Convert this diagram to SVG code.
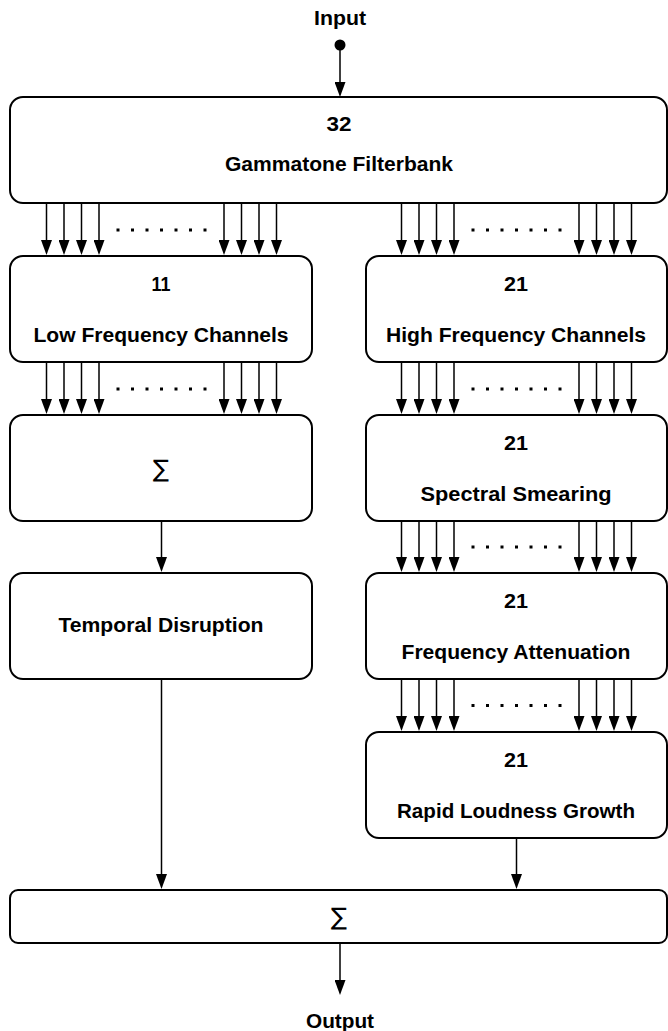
<svg xmlns="http://www.w3.org/2000/svg" width="668" height="1031" viewBox="0 0 668 1031">
<defs>
<style>
.box{fill:#fff;stroke:#000;stroke-width:2}
.t{font-family:"Liberation Sans",Arial,sans-serif;font-weight:bold;font-size:20px;fill:#000;text-anchor:middle}
.s{font-family:"DejaVu Sans","Liberation Sans",sans-serif;font-size:24px;fill:#000;text-anchor:middle}
.c line{stroke:#000;stroke-width:1.5;marker-end:url(#ah)}
.d rect{fill:#000}
</style>
<marker id="ah" viewBox="0 0 15 11" refX="11" refY="5.5" markerWidth="15" markerHeight="11" markerUnits="userSpaceOnUse" orient="auto">
<path d="M0,0 L15,5.5 L0,11 z" fill="#000"/>
</marker>
</defs>
<rect width="668" height="1031" fill="#fff"/>

<g id="input">
<text class="t" x="340" y="25" textLength="52" lengthAdjust="spacingAndGlyphs">Input</text>
<circle cx="340" cy="45" r="5.5" fill="#000"/>
</g>

<g id="gammatone">
<rect class="box" x="10" y="97" width="657" height="106" rx="13"/>
<text class="t" x="339" y="131" textLength="25" lengthAdjust="spacingAndGlyphs">32</text>
<text class="t" x="339" y="171" textLength="228" lengthAdjust="spacingAndGlyphs">Gammatone Filterbank</text>
</g>

<g id="low">
<rect class="box" x="10" y="256" width="302" height="106" rx="13"/>
<text class="t" x="161" y="291" textLength="19" lengthAdjust="spacingAndGlyphs">11</text>
<text class="t" x="161" y="342" textLength="255" lengthAdjust="spacingAndGlyphs">Low Frequency Channels</text>
</g>

<g id="high">
<rect class="box" x="366" y="256" width="301" height="106" rx="13"/>
<text class="t" x="516" y="291" textLength="24" lengthAdjust="spacingAndGlyphs">21</text>
<text class="t" x="516" y="342" textLength="260" lengthAdjust="spacingAndGlyphs">High Frequency Channels</text>
</g>

<g id="sum1">
<rect class="box" x="10" y="415" width="302" height="106" rx="13"/>
<text class="s" x="161" y="477">∑</text>
</g>

<g id="spectral">
<rect class="box" x="366" y="415" width="301" height="106" rx="13"/>
<text class="t" x="516" y="450" textLength="24" lengthAdjust="spacingAndGlyphs">21</text>
<text class="t" x="516" y="501" textLength="191" lengthAdjust="spacingAndGlyphs">Spectral Smearing</text>
</g>

<g id="temporal">
<rect class="box" x="10" y="573" width="302" height="106" rx="13"/>
<text class="t" x="161" y="632" textLength="205" lengthAdjust="spacingAndGlyphs">Temporal Disruption</text>
</g>

<g id="attenuation">
<rect class="box" x="366" y="573" width="301" height="106" rx="13"/>
<text class="t" x="516" y="608" textLength="24" lengthAdjust="spacingAndGlyphs">21</text>
<text class="t" x="516" y="659" textLength="229" lengthAdjust="spacingAndGlyphs">Frequency Attenuation</text>
</g>

<g id="loudness">
<rect class="box" x="366" y="732" width="301" height="106" rx="13"/>
<text class="t" x="516" y="767" textLength="24" lengthAdjust="spacingAndGlyphs">21</text>
<text class="t" x="516" y="818" textLength="238" lengthAdjust="spacingAndGlyphs">Rapid Loudness Growth</text>
</g>

<g id="sum2">
<rect class="box" x="10" y="890" width="657" height="53" rx="8"/>
<text class="s" x="339" y="925">∑</text>
</g>

<g id="output">
<text class="t" x="340" y="1028" textLength="68" lengthAdjust="spacingAndGlyphs">Output</text>
</g>

<g id="connectors" class="c">
<line x1="340" y1="45" x2="340" y2="93"/>
<line x1="46.5" y1="204" x2="46.5" y2="251"/>
<line x1="64" y1="204" x2="64" y2="251"/>
<line x1="81.5" y1="204" x2="81.5" y2="251"/>
<line x1="99" y1="204" x2="99" y2="251"/>
<line x1="224" y1="204" x2="224" y2="251"/>
<line x1="241.5" y1="204" x2="241.5" y2="251"/>
<line x1="259" y1="204" x2="259" y2="251"/>
<line x1="276.5" y1="204" x2="276.5" y2="251"/>
<line x1="401.5" y1="204" x2="401.5" y2="251"/>
<line x1="419" y1="204" x2="419" y2="251"/>
<line x1="436.5" y1="204" x2="436.5" y2="251"/>
<line x1="454" y1="204" x2="454" y2="251"/>
<line x1="579" y1="204" x2="579" y2="251"/>
<line x1="596.5" y1="204" x2="596.5" y2="251"/>
<line x1="614" y1="204" x2="614" y2="251"/>
<line x1="631.5" y1="204" x2="631.5" y2="251"/>
<line x1="46.5" y1="363" x2="46.5" y2="410"/>
<line x1="64" y1="363" x2="64" y2="410"/>
<line x1="81.5" y1="363" x2="81.5" y2="410"/>
<line x1="99" y1="363" x2="99" y2="410"/>
<line x1="224" y1="363" x2="224" y2="410"/>
<line x1="241.5" y1="363" x2="241.5" y2="410"/>
<line x1="259" y1="363" x2="259" y2="410"/>
<line x1="276.5" y1="363" x2="276.5" y2="410"/>
<line x1="401.5" y1="363" x2="401.5" y2="410"/>
<line x1="419" y1="363" x2="419" y2="410"/>
<line x1="436.5" y1="363" x2="436.5" y2="410"/>
<line x1="454" y1="363" x2="454" y2="410"/>
<line x1="579" y1="363" x2="579" y2="410"/>
<line x1="596.5" y1="363" x2="596.5" y2="410"/>
<line x1="614" y1="363" x2="614" y2="410"/>
<line x1="631.5" y1="363" x2="631.5" y2="410"/>
<line x1="401.5" y1="522" x2="401.5" y2="568"/>
<line x1="419" y1="522" x2="419" y2="568"/>
<line x1="436.5" y1="522" x2="436.5" y2="568"/>
<line x1="454" y1="522" x2="454" y2="568"/>
<line x1="579" y1="522" x2="579" y2="568"/>
<line x1="596.5" y1="522" x2="596.5" y2="568"/>
<line x1="614" y1="522" x2="614" y2="568"/>
<line x1="631.5" y1="522" x2="631.5" y2="568"/>
<line x1="401.5" y1="680" x2="401.5" y2="727"/>
<line x1="419" y1="680" x2="419" y2="727"/>
<line x1="436.5" y1="680" x2="436.5" y2="727"/>
<line x1="454" y1="680" x2="454" y2="727"/>
<line x1="579" y1="680" x2="579" y2="727"/>
<line x1="596.5" y1="680" x2="596.5" y2="727"/>
<line x1="614" y1="680" x2="614" y2="727"/>
<line x1="631.5" y1="680" x2="631.5" y2="727"/>
<line x1="161.5" y1="522" x2="161.5" y2="568"/>
<line x1="161.5" y1="680" x2="161.5" y2="885"/>
<line x1="516.5" y1="839" x2="516.5" y2="885"/>
<line x1="340" y1="944" x2="340" y2="991"/>
</g>

<g id="dots" class="d">
<rect x="116.5" y="228.5" width="3" height="3"/><rect x="131" y="228.5" width="3" height="3"/><rect x="145.5" y="228.5" width="3" height="3"/><rect x="160" y="228.5" width="3" height="3"/><rect x="174.5" y="228.5" width="3" height="3"/><rect x="189" y="228.5" width="3" height="3"/><rect x="203.5" y="228.5" width="3" height="3"/>
<rect x="471.5" y="228.5" width="3" height="3"/><rect x="486" y="228.5" width="3" height="3"/><rect x="500.5" y="228.5" width="3" height="3"/><rect x="515" y="228.5" width="3" height="3"/><rect x="529.5" y="228.5" width="3" height="3"/><rect x="544" y="228.5" width="3" height="3"/><rect x="558.5" y="228.5" width="3" height="3"/>
<rect x="116.5" y="387.5" width="3" height="3"/><rect x="131" y="387.5" width="3" height="3"/><rect x="145.5" y="387.5" width="3" height="3"/><rect x="160" y="387.5" width="3" height="3"/><rect x="174.5" y="387.5" width="3" height="3"/><rect x="189" y="387.5" width="3" height="3"/><rect x="203.5" y="387.5" width="3" height="3"/>
<rect x="471.5" y="387.5" width="3" height="3"/><rect x="486" y="387.5" width="3" height="3"/><rect x="500.5" y="387.5" width="3" height="3"/><rect x="515" y="387.5" width="3" height="3"/><rect x="529.5" y="387.5" width="3" height="3"/><rect x="544" y="387.5" width="3" height="3"/><rect x="558.5" y="387.5" width="3" height="3"/>
<rect x="471.5" y="545.5" width="3" height="3"/><rect x="486" y="545.5" width="3" height="3"/><rect x="500.5" y="545.5" width="3" height="3"/><rect x="515" y="545.5" width="3" height="3"/><rect x="529.5" y="545.5" width="3" height="3"/><rect x="544" y="545.5" width="3" height="3"/><rect x="558.5" y="545.5" width="3" height="3"/>
<rect x="471.5" y="704" width="3" height="3"/><rect x="486" y="704" width="3" height="3"/><rect x="500.5" y="704" width="3" height="3"/><rect x="515" y="704" width="3" height="3"/><rect x="529.5" y="704" width="3" height="3"/><rect x="544" y="704" width="3" height="3"/><rect x="558.5" y="704" width="3" height="3"/>
</g>
</svg>
